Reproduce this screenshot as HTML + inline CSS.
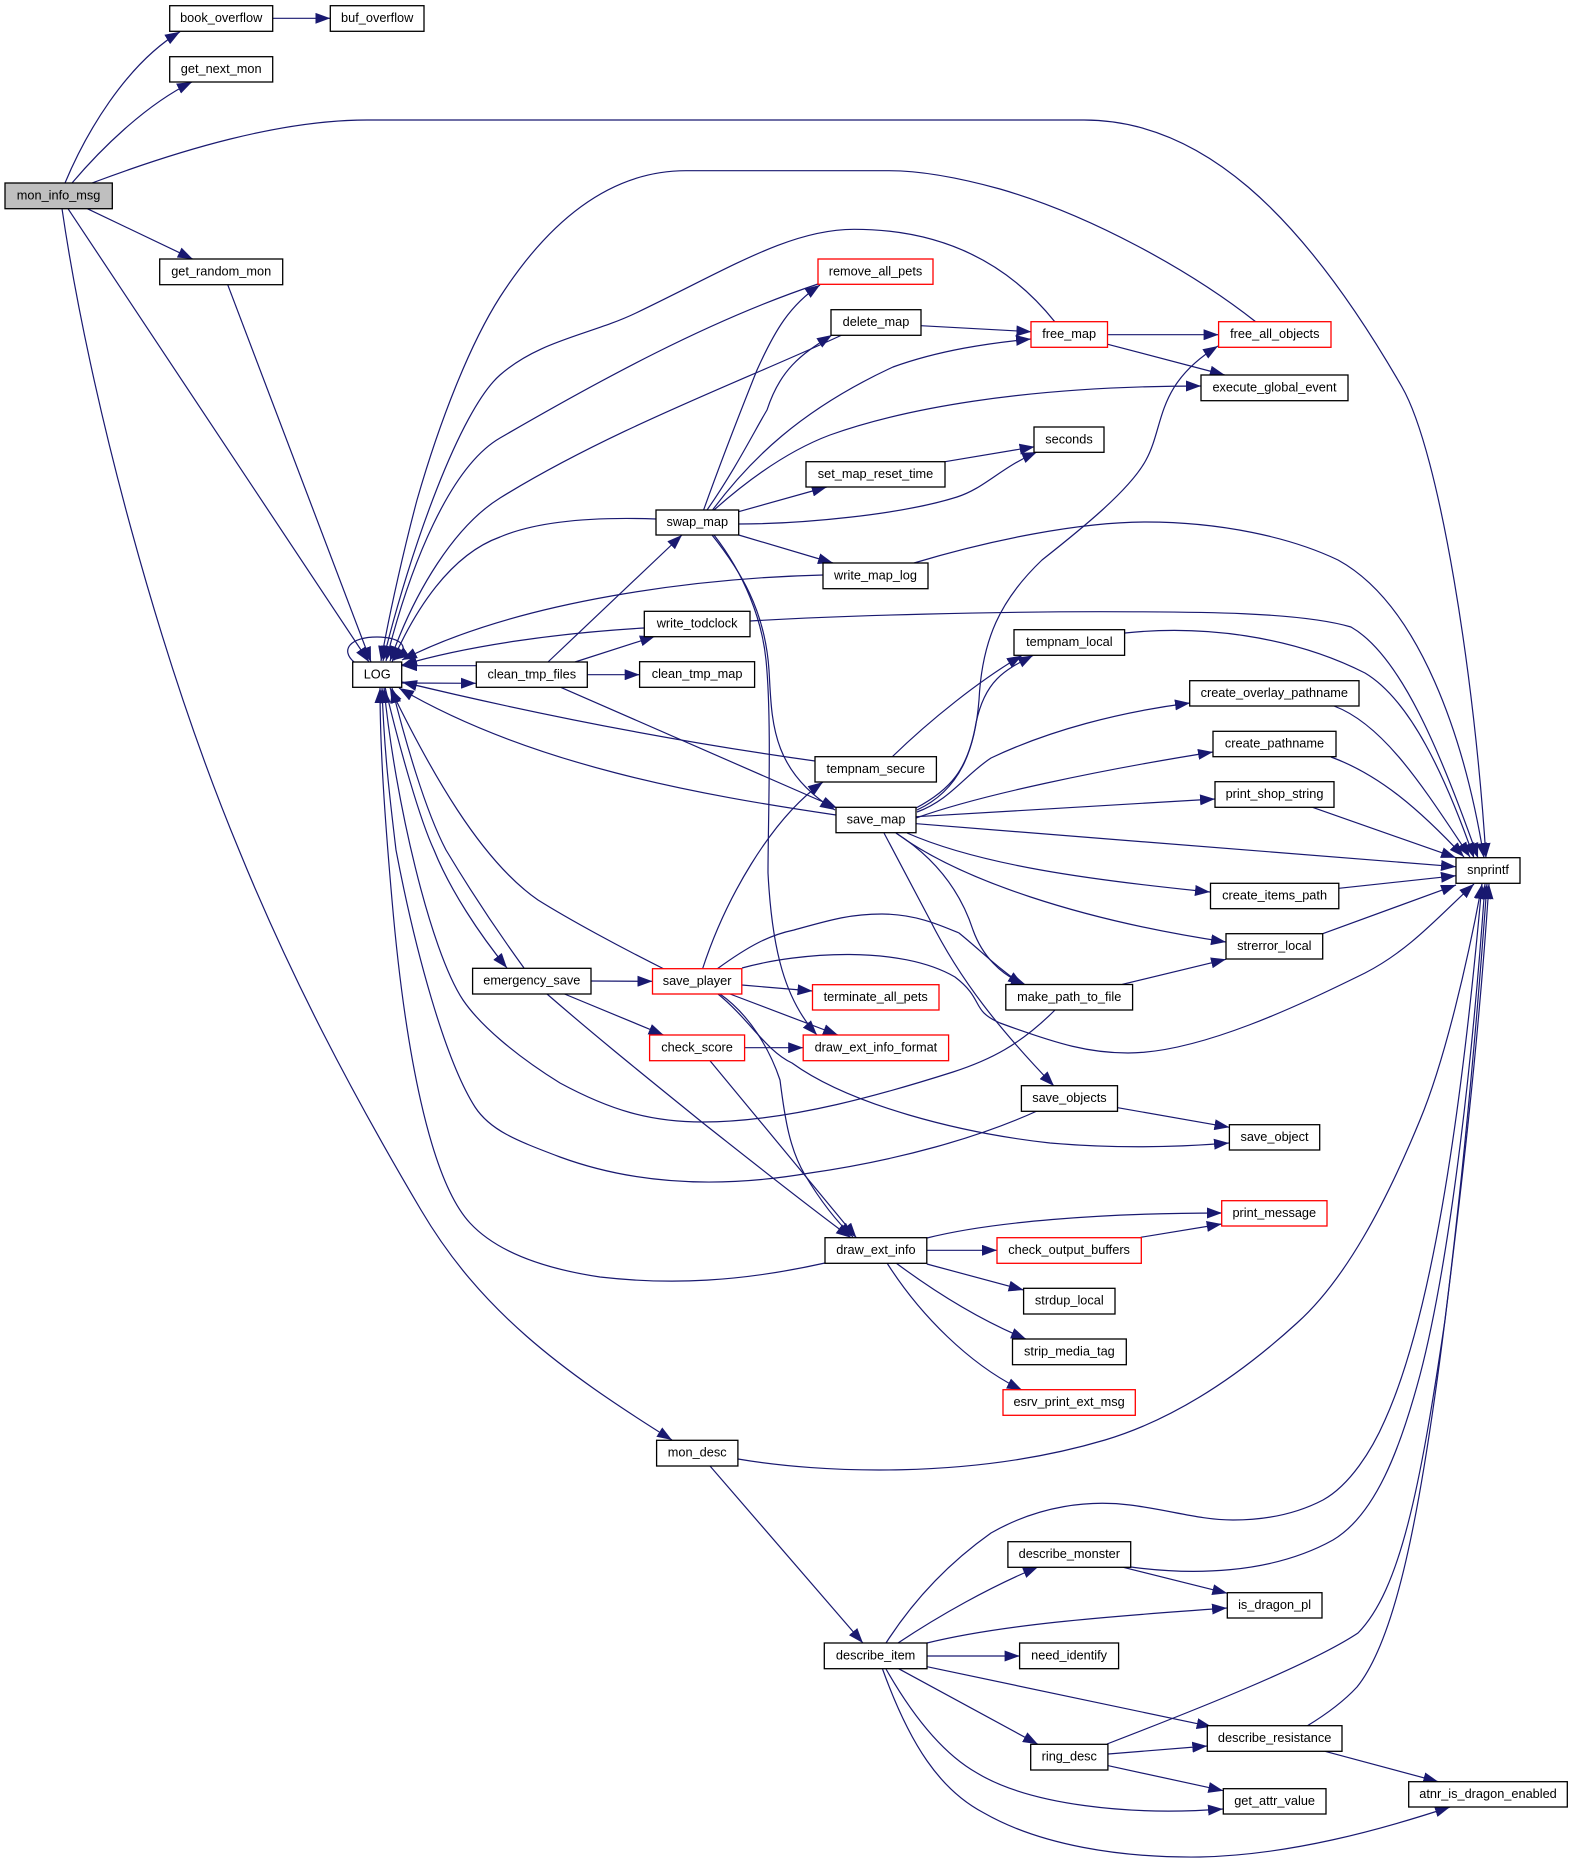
<!DOCTYPE html>
<html lang="en">
<head>
<meta charset="utf-8">
<title>mon_info_msg call graph</title>
<style>
html,body{margin:0;padding:0;background:#fff}
svg{display:block}
.e path{fill:none;stroke:#191970;stroke-width:1.2;marker-end:url(#a)}
.n rect{fill:#fff;stroke:#000;stroke-width:1.3}
.n rect.r{stroke:#f00}
.n rect.g{fill:#bfbfbf}
text{font-family:"Liberation Sans",sans-serif;font-size:12.75px;text-anchor:middle;fill:#000}
</style>
</head>
<body>
<svg xmlns="http://www.w3.org/2000/svg" width="1573" height="1862" viewBox="0 0 1573 1862">
<defs>
<marker id="a" markerUnits="userSpaceOnUse" markerWidth="15" markerHeight="11" refX="15" refY="5.5" orient="auto"><path d="M0,0L15,5.5L0,11z" fill="#191970"/></marker>
</defs>
<g class="e">
<path d="M65,183C85,135 125,65 180,31.7"/>
<path d="M72,183C100,150 145,105 192,82"/>
<path d="M92,183C180,150 280,120 367,120L1084,120C1200,120 1300,210 1402,387C1440,453 1475,680 1486,858"/>
<path d="M87.3,208.7L192.7,259"/>
<path d="M68,208.7L369,662"/>
<path d="M227.7,284.7L371,662"/>
<path d="M62,208.7C90,400 160,660 239,850C290,975 350,1090 421,1210C480,1310 560,1370 672,1440"/>
<path d="M354,662C340,650 350,637 377,637C402,637 412,648 394,660"/>
<path d="M1256,322C1190,270 1090,215 1000,189C960,178 920,170.7 889,170.7L686,170.7C600,170.7 540,235 500,297C470,344 440,420 417,500C405,545 390,610 381,661"/>
<path d="M1055,322C1020,278 960,229.3 854,229.3C790,229.3 730,268 636,313C590,335 540,340 500,375C460,410 410,550 383,661"/>
<path d="M818,284C710,320 600,380 500,438C450,467 410,565 386,661"/>
<path d="M842,335C740,382 610,430 500,498C455,526 415,590 390,661"/>
<path d="M656,519C600,517 540,520 500,537C450,555 415,610 392,662"/>
<path d="M823,575C700,578 520,600 402,660"/>
<path d="M644,628C560,633 470,645 402,665"/>
<path d="M476,665.7L402,665.7"/>
<path d="M402,683L476,683.3"/>
<path d="M815,761C700,745 560,720 402,682"/>
<path d="M836,815C700,795 530,765 399,688"/>
<path d="M548,662L682,535"/>
<path d="M575,662L655,636.3"/>
<path d="M587.3,674.7L639.7,674.7"/>
<path d="M560.7,687.3L837,808"/>
<path d="M738.7,535L833,563"/>
<path d="M738.6,511.7L826.8,487"/>
<path d="M738.6,524C800,524 900,515 957,497C985,488 1000,468 1037,452"/>
<path d="M945,461.7L1034.6,446.7"/>
<path d="M712.5,510C750,460 800,410 893,367C940,350 990,343 1031,339"/>
<path d="M714,510C750,478 790,450 830,435C900,410 1020,386 1201,386"/>
<path d="M707,510C735,470 755,430 767,410C780,370 800,355 832,335"/>
<path d="M703.6,510C725,450 745,400 757,370C775,330 790,305 820,285"/>
<path d="M712,535C740,570 765,610 769,670C772,720 770,770 835,810"/>
<path d="M714,535C745,575 762,620 766,660C772,720 768,820 768,873C772,950 785,1000 817,1035"/>
<path d="M920.7,325.7L1031.4,331.7"/>
<path d="M1107.5,334.7L1218.6,334.7"/>
<path d="M1107.8,344.3L1224.8,375"/>
<path d="M914,563C990,540 1080,522 1146,522C1220,522 1290,537 1338,560C1420,605 1465,740 1484,858"/>
<path d="M750,621C850,615 1000,611.7 1100,611.7C1200,611.7 1300,612 1351,627C1400,655 1440,750 1478,858"/>
<path d="M1125,633C1200,625 1290,635 1365,673C1410,700 1445,775 1474,858"/>
<path d="M1334,706C1385,725 1425,790 1470,857"/>
<path d="M1331,757C1380,775 1420,810 1464,857"/>
<path d="M1312.5,807.3L1456,857.7"/>
<path d="M916.4,823.7L1456,866.7"/>
<path d="M1338.8,888.3L1456,875.7"/>
<path d="M1322.7,933.7L1456,885"/>
<path d="M742,968C800,952 900,945 955,977C985,1000 970,1010 1000,1023C1060,1045 1090,1053 1128,1053C1200,1053 1300,1005 1365,973C1410,950 1440,915 1474,884"/>
<path d="M717,969C750,945 770,935 794,930C830,920 850,914 882,914C915,914 940,925 959,933C980,950 1000,970 1023,985"/>
<path d="M896,833C935,858 960,890 973,930C982,955 1000,975 1026,985"/>
<path d="M907,833C980,865 1090,880 1210,892"/>
<path d="M896,833C960,880 1080,920 1226,942"/>
<path d="M884,833L930,920C960,980 1000,1030 1054,1086"/>
<path d="M1117.7,1107.7L1229.4,1127.3"/>
<path d="M718,994C750,1020 765,1050 792,1063C850,1105 960,1133 1050,1143C1120,1149 1180,1147 1229,1143"/>
<path d="M702.5,969C725,900 770,820 823,782"/>
<path d="M741.8,985L812.5,991"/>
<path d="M730,994L838,1035"/>
<path d="M720,994C750,1015 770,1050 780,1080C785,1120 790,1150 805,1175C820,1200 835,1220 853,1237"/>
<path d="M591,981L652.5,981.3"/>
<path d="M564.5,994L663.6,1035"/>
<path d="M547,994C600,1040 650,1080 703,1123C750,1160 800,1200 851,1237.7"/>
<path d="M744.6,1047.7L803.2,1047.7"/>
<path d="M710,1060.7L856.4,1237.7"/>
<path d="M664,969C620,947 570,920 538,900C480,860 430,770 390,688"/>
<path d="M825,1263C740,1282 670,1285 600,1277C540,1268 495,1250 470,1223C430,1180 405,1050 392,900C385,820 380,750 380,688"/>
<path d="M1037,1111C980,1137 900,1160 810,1173C740,1185 650,1190 560,1157C515,1140 490,1130 475,1107C445,1060 415,950 396,850C390,800 384,750 382,688"/>
<path d="M1055,1010C1020,1045 990,1060 953,1072C890,1092 790,1122 703,1122C650,1122 610,1110 560,1083C515,1055 480,1025 463,1000C430,950 395,800 384,688"/>
<path d="M524,968C500,935 470,890 446,850C425,810 405,740 392,688"/>
<path d="M385,687C400,750 420,820 434,850C450,890 480,935 507,968"/>
<path d="M892,757C930,720 980,680 1022,655.5"/>
<path d="M916,808C950,790 968,770 976,723C985,680 1005,670 1033,655.5"/>
<path d="M917,810C960,790 975,750 979,700C982,640 1000,600 1042,560C1080,530 1130,490 1146,460C1165,425 1155,385 1218,346"/>
<path d="M917,812C950,800 965,775 991,758C1050,730 1120,712 1190,703"/>
<path d="M916,818C980,795 1100,770 1213,752"/>
<path d="M916.4,816.7L1215,799"/>
<path d="M1122.4,984.3L1226,959.3"/>
<path d="M927,1238C990,1222 1100,1213 1222,1213"/>
<path d="M1140.7,1237.3L1221.7,1224"/>
<path d="M926.8,1250.3L997,1250.3"/>
<path d="M926.8,1264L1023.6,1290"/>
<path d="M896,1263C935,1292 980,1320 1026,1339"/>
<path d="M887,1263C920,1315 970,1365 1022,1390"/>
<path d="M738,1459C820,1473 970,1480 1105,1440C1175,1419 1240,1375 1297,1323C1345,1280 1385,1205 1420,1120C1445,1060 1468,960 1482,884"/>
<path d="M886,1643C920,1590 960,1555 991,1533C1040,1505 1090,1500 1130,1505C1170,1510 1200,1520 1233,1520C1270,1520 1300,1512 1323,1500C1350,1485 1372,1450 1385,1420C1430,1320 1460,1130 1482,884"/>
<path d="M1131,1567C1190,1575 1270,1575 1333,1540C1375,1515 1400,1450 1420,1375C1445,1280 1470,1100 1485,884"/>
<path d="M1107,1744C1190,1712 1310,1665 1358,1633C1400,1590 1420,1490 1445,1320C1460,1200 1475,1050 1487,884"/>
<path d="M1307,1726C1330,1712 1345,1700 1357,1687C1395,1640 1420,1520 1445,1320C1460,1200 1478,1050 1489,884"/>
<path d="M898,1643C940,1615 990,1587 1038,1567"/>
<path d="M927,1643C1000,1625 1100,1617 1227,1608"/>
<path d="M1123.3,1567.3L1227.3,1593.3"/>
<path d="M927,1656L1019.6,1656"/>
<path d="M927,1666.7L1211.7,1726.7"/>
<path d="M898.6,1668.7L1037.9,1744.3"/>
<path d="M886,1669C915,1720 945,1755 977,1773C1030,1805 1130,1816 1223,1809"/>
<path d="M882.5,1669C910,1745 940,1790 984,1813C1040,1845 1120,1858 1200,1857C1290,1855 1380,1830 1450,1807"/>
<path d="M1108.3,1754L1207.3,1746"/>
<path d="M1108.3,1765.7L1223.3,1790.7"/>
<path d="M1325,1751.3L1438.3,1781.7"/>
<path d="M710,1466L862.9,1643"/>
<path d="M272.7,18.3L330.3,18.3"/>
</g>
<g class="n">
<rect class="g" x="5" y="183" width="107.3" height="25.7"/><text x="58.6" y="199.3">mon_info_msg</text>
<rect x="169.7" y="5.7" width="103" height="25.6"/><text x="221.2" y="22">book_overflow</text>
<rect x="330.3" y="5.7" width="93.7" height="25.6"/><text x="377.2" y="22">buf_overflow</text>
<rect x="169.7" y="56.7" width="103" height="25.3"/><text x="221.2" y="73">get_next_mon</text>
<rect x="159.7" y="259" width="123" height="25.7"/><text x="221.2" y="275.3">get_random_mon</text>
<rect x="352.7" y="662" width="49" height="25.3"/><text x="377.2" y="678.3">LOG</text>
<rect x="476.3" y="662" width="111" height="25.3"/><text x="531.8" y="678.3">clean_tmp_files</text>
<rect x="472.6" y="968.3" width="118.4" height="25.7"/><text x="531.8" y="984.6">emergency_save</text>
<rect class="r" x="818" y="259" width="115" height="25.3"/><text x="875.5" y="275.3">remove_all_pets</text>
<rect x="831" y="309.7" width="90" height="25.6"/><text x="876" y="326">delete_map</text>
<rect x="656" y="510" width="82.7" height="25"/><text x="697.3" y="526">swap_map</text>
<rect x="806" y="461.7" width="139" height="25.3"/><text x="875.5" y="478">set_map_reset_time</text>
<rect x="823" y="563" width="105" height="25.7"/><text x="875.5" y="579.3">write_map_log</text>
<rect x="644.3" y="611.3" width="105.7" height="25.4"/><text x="697.1" y="627.6">write_todclock</text>
<rect x="639.6" y="661.7" width="115" height="25.6"/><text x="697.1" y="678">clean_tmp_map</text>
<rect x="815" y="756.7" width="121.4" height="25.3"/><text x="875.7" y="773">tempnam_secure</text>
<rect x="836" y="807.3" width="80" height="25.4"/><text x="876" y="823.6">save_map</text>
<rect class="r" x="652.5" y="968.7" width="89.3" height="25.3"/><text x="697.1" y="985">save_player</text>
<rect class="r" x="812.5" y="984.7" width="126.5" height="25.3"/><text x="875.7" y="1001">terminate_all_pets</text>
<rect class="r" x="649.6" y="1035" width="95" height="25.7"/><text x="697.1" y="1051.3">check_score</text>
<rect class="r" x="803.2" y="1035" width="145.4" height="25.7"/><text x="875.9" y="1051.3">draw_ext_info_format</text>
<rect x="825" y="1237.7" width="101.8" height="25.6"/><text x="875.9" y="1254">draw_ext_info</text>
<rect x="656.6" y="1440.3" width="81.3" height="25.7"/><text x="697.2" y="1456.6">mon_desc</text>
<rect x="824.3" y="1643" width="102.7" height="25.7"/><text x="875.6" y="1659.3">describe_item</text>
<rect class="r" x="1031" y="321.7" width="76.5" height="25.6"/><text x="1069.2" y="338">free_map</text>
<rect class="r" x="1218.6" y="321.7" width="112.4" height="25.6"/><text x="1274.8" y="338">free_all_objects</text>
<rect x="1201" y="375" width="147" height="25.7"/><text x="1274.5" y="391.3">execute_global_event</text>
<rect x="1034" y="427" width="70" height="25.3"/><text x="1069" y="443.3">seconds</text>
<rect x="1014" y="629.7" width="110.6" height="25.6"/><text x="1069.3" y="646">tempnam_local</text>
<rect x="1189.7" y="680.7" width="169.3" height="25.3"/><text x="1274.3" y="697">create_overlay_pathname</text>
<rect x="1213" y="731.3" width="123" height="25.4"/><text x="1274.5" y="747.6">create_pathname</text>
<rect x="1215" y="781.7" width="119" height="25.6"/><text x="1274.5" y="798">print_shop_string</text>
<rect x="1456" y="857.7" width="64" height="25.6"/><text x="1488" y="874">snprintf</text>
<rect x="1210.5" y="883.3" width="128.3" height="25.4"/><text x="1274.6" y="899.6">create_items_path</text>
<rect x="1226" y="933.7" width="96.7" height="25.3"/><text x="1274.3" y="950">strerror_local</text>
<rect x="1005.8" y="984.5" width="126.8" height="25.5"/><text x="1069.2" y="1001">make_path_to_file</text>
<rect x="1021.4" y="1085.7" width="96.1" height="25.6"/><text x="1069.4" y="1102">save_objects</text>
<rect x="1229.4" y="1124.7" width="90.3" height="25.3"/><text x="1274.5" y="1141">save_object</text>
<rect class="r" x="1221.7" y="1200.7" width="105.3" height="25.3"/><text x="1274.3" y="1217">print_message</text>
<rect class="r" x="997" y="1237.7" width="144.3" height="25.6"/><text x="1069.1" y="1254">check_output_buffers</text>
<rect x="1023.6" y="1288.3" width="91.4" height="25.7"/><text x="1069.3" y="1304.6">strdup_local</text>
<rect x="1012.5" y="1339" width="113.8" height="25.7"/><text x="1069.4" y="1355.3">strip_media_tag</text>
<rect class="r" x="1003" y="1389.7" width="132.3" height="25.6"/><text x="1069.1" y="1406">esrv_print_ext_msg</text>
<rect x="1007.9" y="1541.7" width="122.8" height="25.6"/><text x="1069.3" y="1558">describe_monster</text>
<rect x="1019.6" y="1643" width="99" height="25.7"/><text x="1069.1" y="1659.3">need_identify</text>
<rect x="1030.7" y="1744.3" width="77.2" height="25.7"/><text x="1069.3" y="1760.6">ring_desc</text>
<rect x="1227.3" y="1592.7" width="94.7" height="25.3"/><text x="1274.6" y="1609">is_dragon_pl</text>
<rect x="1207.3" y="1725.7" width="134.7" height="25.6"/><text x="1274.6" y="1742">describe_resistance</text>
<rect x="1223.3" y="1788.7" width="102.7" height="25.3"/><text x="1274.6" y="1805">get_attr_value</text>
<rect x="1408.7" y="1781.7" width="158.6" height="25.3"/><text x="1488" y="1798">atnr_is_dragon_enabled</text>
</g>
</svg>
</body>
</html>
